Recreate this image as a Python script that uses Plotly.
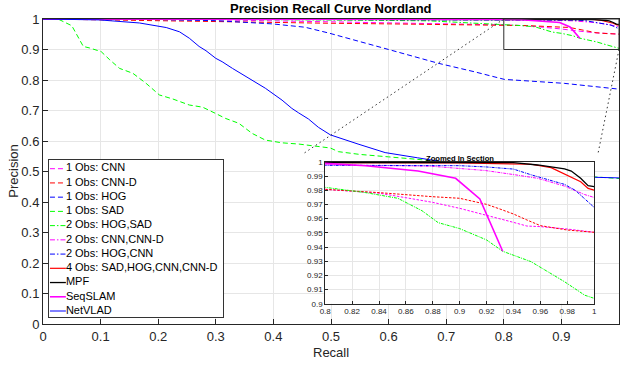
import plotly.graph_objects as go

# ---------------- data ----------------
NAMES = ["1 Obs: CNN", "1 Obs: CNN-D", "1 Obs: HOG", "1 Obs: SAD",
         "2 Obs: HOG,SAD", "2 Obs: CNN,CNN-D", "2 Obs: HOG,CNN",
         "4 Obs: SAD,HOG,CNN,CNN-D", "MPF", "SeqSLAM", "NetVLAD"]

CNN_R = [0, 0.1, 0.2, 0.3, 0.4, 0.5, 0.6, 0.7, 0.8, 0.84, 0.86, 0.88, 0.9, 0.92, 0.94, 0.95, 0.96, 0.98, 1.0]
CNN_P = [1, 0.9995, 0.999, 0.997, 0.994, 0.991, 0.988, 0.985, 0.9807, 0.9780, 0.9748, 0.9715, 0.9673, 0.9626, 0.9574, 0.9548, 0.9544, 0.9527, 0.9504]

CNND_R = [0, 0.07, 0.2, 0.3, 0.4, 0.5, 0.6, 0.7, 0.8, 0.84, 0.86, 0.88, 0.9, 0.91, 0.92, 0.93, 0.94, 0.95, 0.96, 0.98, 1.0]
CNND_P = [1, 0.998, 0.993, 0.990, 0.988, 0.986, 0.984, 0.982, 0.9807, 0.9784, 0.9767, 0.9755, 0.9744, 0.9725, 0.9701, 0.9668, 0.9633, 0.9591, 0.9551, 0.9520, 0.9504]

HOG_R = [0, 0.1, 0.2, 0.3, 0.398, 0.455, 0.496, 0.6, 0.686, 0.749, 0.801, 0.905, 1.0]
HOG_P = [1, 0.9995, 0.998, 0.9945, 0.984, 0.973, 0.954, 0.900, 0.855, 0.827, 0.802, 0.789, 0.770]

SAD_R = [0, 0.026, 0.05, 0.07, 0.081, 0.101, 0.116, 0.133, 0.156, 0.179, 0.202, 0.225, 0.254, 0.277, 0.3,
         0.317, 0.34, 0.363, 0.386, 0.415, 0.444, 0.478, 0.499, 0.513, 0.55, 0.6, 0.7, 0.8, 0.9, 0.96, 1.0]
SAD_P = [1, 1, 0.978, 0.910, 0.905, 0.893, 0.866, 0.838, 0.822, 0.789, 0.751, 0.738, 0.718, 0.711, 0.690,
         0.674, 0.658, 0.625, 0.603, 0.594, 0.590, 0.581, 0.577, 0.565, 0.556, 0.548, 0.532, 0.515, 0.495, 0.482, 0.477]

HOGSAD_R = [0, 0.3, 0.5, 0.67, 0.8, 0.83, 0.854, 0.872, 0.884, 0.9, 0.92, 0.932, 0.953, 0.961, 0.978, 0.993, 1.0]
HOGSAD_P = [1, 0.999, 0.997, 0.994, 0.9821, 0.9784, 0.9744, 0.9656, 0.9572, 0.9530, 0.9450, 0.9370, 0.9297, 0.9250, 0.9155, 0.9060, 0.9038]

CNNCNND_R = [0, 0.2, 0.4, 0.6, 0.8, 0.879, 0.919, 0.941, 0.958, 0.978, 0.993, 1.0]
CNNCNND_P = [1, 0.9995, 0.999, 0.9985, 0.998, 0.997, 0.994, 0.991, 0.9885, 0.983, 0.977, 0.975]

HOGCNN_R = [0, 0.2, 0.4, 0.6, 0.8, 0.9, 0.92, 0.94, 0.953, 0.968, 0.978, 0.986, 0.993, 1.0]
HOGCNN_P = [1, 0.9995, 0.999, 0.9985, 0.998, 0.9974, 0.9965, 0.995, 0.991, 0.9866, 0.9842, 0.980, 0.974, 0.968]

ALL4_R = [0, 0.5, 0.8, 0.9, 0.94, 0.953, 0.968, 0.98, 0.99, 0.9955, 1.0]
ALL4_P = [1, 1, 0.9995, 0.9993, 0.999, 0.9984, 0.996, 0.9908, 0.9861, 0.9814, 0.9802]

MPF_R = [0, 0.5, 0.8, 0.9, 0.94, 0.958, 0.978, 0.983, 0.99, 0.9955, 1.0]
MPF_P = [1, 1, 1, 1, 0.9995, 0.9979, 0.9951, 0.9936, 0.9885, 0.9833, 0.9826]

SEQ_R = [0, 0.3, 0.6, 0.8, 0.83, 0.869, 0.884, 0.897, 0.915, 0.932]
SEQ_P = [1, 1, 0.9995, 0.999, 0.9974, 0.9936, 0.991, 0.9885, 0.9739, 0.937]

NETVLAD_R = [0, 0.05, 0.098, 0.1675, 0.214, 0.237, 0.254, 0.271, 0.283, 0.3, 0.311, 0.329, 0.358, 0.386,
             0.415, 0.432, 0.444, 0.461, 0.478, 0.499, 0.547, 0.594, 0.65, 0.7, 0.8, 0.9, 0.96, 1.0]
NETVLAD_P = [1, 0.999, 0.997, 0.987, 0.972, 0.958, 0.937, 0.910, 0.896, 0.871, 0.860, 0.838, 0.806, 0.773,
             0.734, 0.707, 0.692, 0.672, 0.645, 0.620, 0.590, 0.562, 0.545, 0.530, 0.510, 0.490, 0.481, 0.479]

MAIN_TICKS = [0, 0.1, 0.2, 0.3, 0.4, 0.5, 0.6, 0.7, 0.8, 0.9, 1.0]
MAIN_TICK_TEXT = ["0", "0.1", "0.2", "0.3", "0.4", "0.5", "0.6", "0.7", "0.8", "0.9", "1"]
ZOOM_X_TICKS = [0.8, 0.82, 0.84, 0.86, 0.88, 0.9, 0.92, 0.94, 0.96, 0.98, 1.0]
ZOOM_X_TEXT = ["0.8", "0.82", "0.84", "0.86", "0.88", "0.9", "0.92", "0.94", "0.96", "0.98", "1"]
ZOOM_Y_TICKS = [0.9, 0.91, 0.92, 0.93, 0.94, 0.95, 0.96, 0.97, 0.98, 0.99, 1.0]
ZOOM_Y_TEXT = ["0.9", "0.91", "0.92", "0.93", "0.94", "0.95", "0.96", "0.97", "0.98", "0.99", "1"]
ZOOM_X = [0.8, 1.0]
ZOOM_Y = [0.9, 1.0]

# ---------------- styles ----------------
MAG, RED, BLUE, GREEN, BLACK = "#ff00ff", "#ff0000", "#0000ff", "#00ff00", "#000000"
DASH_M, DDOT_M = "5px,3px", "5px,2px,1.5px,2px"
DASH_I, DDOT_I = "2.5px,1.5px", "3px,1px,1px,1px"
SERIES = [
    (CNN_R, CNN_P, MAG, DASH_M, DASH_I, 1),
    (CNND_R, CNND_P, RED, DASH_M, DASH_I, 1),
    (HOG_R, HOG_P, BLUE, DASH_M, DASH_I, 1),
    (SAD_R, SAD_P, GREEN, DASH_M, DASH_I, 1),
    (HOGSAD_R, HOGSAD_P, GREEN, DDOT_M, DDOT_I, 1),
    (CNNCNND_R, CNNCNND_P, MAG, DDOT_M, DDOT_I, 1),
    (HOGCNN_R, HOGCNN_P, BLUE, DDOT_M, DDOT_I, 1),
    (ALL4_R, ALL4_P, RED, "solid", "solid", 1.2),
    (MPF_R, MPF_P, BLACK, "solid", "solid", 1.3),
    (SEQ_R, SEQ_P, MAG, "solid", "solid", 1.6),
    (NETVLAD_R, NETVLAD_P, BLUE, "solid", "solid", 1),
]

# ---------------- geometry (pixels) ----------------
W, H = 622, 366
PL, PR, PT, PB = 43, 622, 19, 324


def fx(p):
    return (p - PL) / (PR - PL)


def fy(p):
    return (PB - p) / (PB - PT)


COVER = dict(x=[fx(305.7), fx(601)], y=[fy(316.7), fy(153)])
INSET = dict(x=[fx(326.7), fx(597)], y=[fy(303.7), fy(162)])
LEG = dict(x=[fx(49), fx(224)], y=[fy(317), fy(160)])
LEG_W, LEG_H = 175, 157
LEG_ROW0, LEG_STEP = 8.7, 14.23

FONT = "Liberation Sans, Arial, Helvetica, sans-serif"
AX = "#262626"
GRID = "#e6e6e6"

fig = go.Figure()

for (rx, py, col, dm, di, w) in SERIES:
    fig.add_trace(go.Scatter(x=rx, y=py, mode="lines", xaxis="x", yaxis="y",
                             line=dict(color=col, dash=dm, width=w),
                             hoverinfo="skip", showlegend=False))
for (rx, py, col, dm, di, w) in SERIES:
    fig.add_trace(go.Scatter(x=rx, y=py, mode="lines", xaxis="x3", yaxis="y3",
                             line=dict(color=col, dash=di, width=w),
                             hoverinfo="skip", showlegend=False))

# custom legend (inside its own small axes)
for i, (name, s) in enumerate(zip(NAMES, SERIES)):
    yy = LEG_ROW0 + LEG_STEP * i
    fig.add_trace(go.Scatter(x=[1, 17], y=[yy, yy], mode="lines+text", xaxis="x4", yaxis="y4",
                             text=["", name], textposition="middle right",
                             textfont=dict(size=11, color="#000000", family=FONT),
                             line=dict(color=s[2], dash=s[3], width=s[5]),
                             cliponaxis=False, hoverinfo="skip", showlegend=False))

main_ax = dict(range=[0, 1], tickvals=MAIN_TICKS, ticktext=MAIN_TICK_TEXT,
               showgrid=True, gridcolor=GRID, gridwidth=1, zeroline=False,
               showline=True, linecolor=AX, linewidth=1, mirror=True,
               ticks="inside", ticklen=5, tickcolor=AX,
               tickfont=dict(size=13, color=AX, family=FONT))
blank_ax = dict(showgrid=False, zeroline=False, showticklabels=False, ticks="",
                showline=True, linecolor="#333333", linewidth=1, mirror=True, fixedrange=True)
inset_x = dict(range=ZOOM_X, tickvals=ZOOM_X_TICKS, ticktext=ZOOM_X_TEXT,
               showgrid=True, gridcolor=GRID, zeroline=False,
               showline=True, linecolor=AX, linewidth=1, mirror=True,
               ticks="inside", ticklen=3, tickcolor=AX,
               tickfont=dict(size=8, color=AX, family=FONT))
inset_y = dict(inset_x, range=ZOOM_Y, tickvals=ZOOM_Y_TICKS, ticktext=ZOOM_Y_TEXT)

fig.update_layout(
    width=W, height=H,
    margin=dict(l=PL, r=W - PR, t=PT, b=H - PB),
    paper_bgcolor="white", plot_bgcolor="white",
    font=dict(family=FONT, color=AX),
    xaxis=dict(main_ax, domain=[0, 1], anchor="y"),
    yaxis=dict(main_ax, domain=[0, 1], anchor="x"),
    xaxis2=dict(blank_ax, domain=COVER["x"], anchor="y2", range=[0, 1]),
    yaxis2=dict(blank_ax, domain=COVER["y"], anchor="x2", range=[0, 1]),
    xaxis3=dict(inset_x, domain=INSET["x"], anchor="y3"),
    yaxis3=dict(inset_y, domain=INSET["y"], anchor="x3"),
    xaxis4=dict(blank_ax, domain=LEG["x"], anchor="y4", range=[0, LEG_W]),
    yaxis4=dict(blank_ax, domain=LEG["y"], anchor="x4", range=[LEG_H, 0]),
    showlegend=False,
)

# zoom rectangle and connector lines
fig.add_shape(type="rect", xref="x", yref="y", x0=ZOOM_X[0], x1=ZOOM_X[1], y0=ZOOM_Y[0], y1=ZOOM_Y[1],
              line=dict(color="#333333", width=1), layer="above")
fig.add_shape(type="line", xref="x", yref="y", x0=ZOOM_X[0], y0=ZOOM_Y[1], x1=COVER["x"][0], y1=COVER["y"][1],
              line=dict(color="#333333", width=1, dash="1.5px,3px"), layer="above")
fig.add_shape(type="line", xref="x", yref="y", x0=ZOOM_X[1], y0=ZOOM_Y[0], x1=COVER["x"][1], y1=COVER["y"][1],
              line=dict(color="#333333", width=1, dash="1.5px,3px"), layer="above")

# titles
fig.add_annotation(text="<b>Precision Recall Curve Nordland</b>", xref="paper", yref="paper",
                   x=0.5, y=fy(9), xanchor="center", yanchor="middle", showarrow=False,
                   font=dict(size=13, color="#000000", family=FONT))
fig.add_annotation(text="Recall", xref="paper", yref="paper", x=0.5, y=fy(352),
                   xanchor="center", yanchor="middle", showarrow=False,
                   font=dict(size=13, color=AX, family=FONT))
fig.add_annotation(text="Precision", xref="paper", yref="paper", x=fx(13), y=0.5, textangle=-90,
                   xanchor="center", yanchor="middle", showarrow=False,
                   font=dict(size=13, color=AX, family=FONT))
fig.add_annotation(text="<b>Zoomed In Section</b>", xref="paper", yref="paper",
                   x=(INSET["x"][0] + INSET["x"][1]) / 2, y=fy(158), xanchor="center", yanchor="middle",
                   showarrow=False, font=dict(size=7.6, color="#000000", family=FONT))

fig.write_html("out.html", config={"displayModeBar": False, "staticPlot": True},
               post_script="document.body.style.margin='0px';")
